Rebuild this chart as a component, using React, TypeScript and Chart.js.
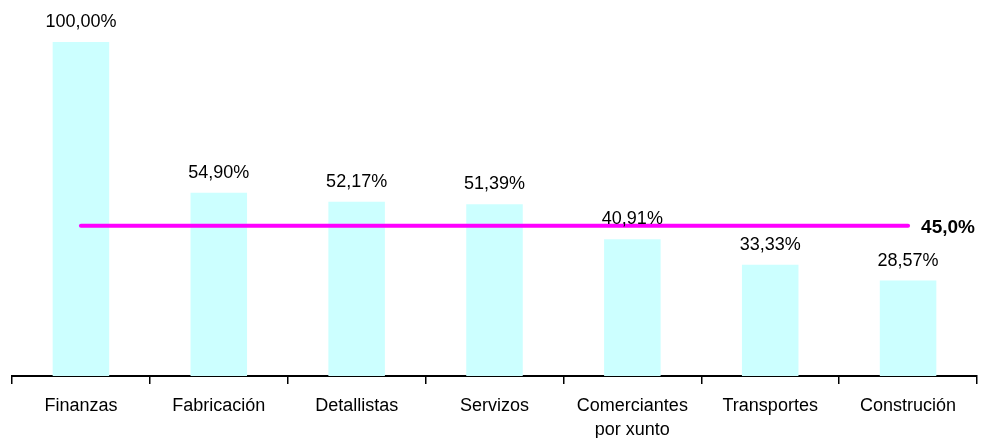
import React, { useEffect, useRef } from "react";
import { Chart, registerables } from "chart.js";

Chart.register(...registerables);

const categories: (string | string[])[] = [
  "Finanzas",
  "Fabricación",
  "Detallistas",
  "Servizos",
  ["Comerciantes", "por xunto"],
  "Transportes",
  "Construción",
];
const values: number[] = [100.0, 54.9, 52.17, 51.39, 40.91, 33.33, 28.57];
const averageValue = 45.0;
const averageLine: number[] = categories.map(() => averageValue);

const FONT = "'Liberation Sans', Arial, sans-serif";

const fmt = (v: number, d: number) => v.toFixed(d).replace(".", ",") + "%";

const labelsPlugin = {
  id: "valueLabels",
  afterDatasetsDraw(chart: any) {
    const ctx = chart.ctx;
    const meta = chart.getDatasetMeta(0);
    ctx.save();
    ctx.font = `18px ${FONT}`;
    ctx.fillStyle = "#000";
    ctx.textAlign = "center";
    ctx.textBaseline = "middle";
    meta.data.forEach((bar: any, i: number) => {
      ctx.fillText(fmt(values[i], 2), bar.x, bar.y - 20);
    });
    const lineMeta = chart.getDatasetMeta(1);
    const last = lineMeta.data[lineMeta.data.length - 1];
    ctx.font = `bold 19px ${FONT}`;
    ctx.textAlign = "left";
    ctx.textBaseline = "middle";
    ctx.fillText(fmt(averageValue, 1), last.x + 13, last.y + 2);
    ctx.restore();
  },
};

export default function App() {
  const ref = useRef<HTMLCanvasElement>(null);
  useEffect(() => {
    document.body.style.margin = "0";
    const chart = new Chart(ref.current!, {
      type: "bar",
      data: {
        labels: categories,
        datasets: [
          {
            type: "bar",
            data: values,
            backgroundColor: "#CCFFFF",
            categoryPercentage: 1,
            barPercentage: 0.41,
            order: 2,
          },
          {
            type: "line",
            data: averageLine,
            borderColor: "#FF00FF",
            borderWidth: 4,
            borderCapStyle: "round",
            pointRadius: 0,
            fill: false,
            order: 1,
          } as any,
        ],
      },
      options: {
        animation: false,
        responsive: false,
        maintainAspectRatio: false,
        layout: { padding: { top: 42, left: 12, right: 6, bottom: 0 } },
        plugins: {
          legend: { display: false },
          tooltip: { enabled: false },
        },
        scales: {
          x: {
            grid: {
              offset: true,
              drawOnChartArea: false,
              drawTicks: true,
              tickLength: 8,
              color: "#000",
              lineWidth: 1.5,
            },
            border: { color: "#000", width: 2 },
            ticks: {
              color: "#000",
              font: { family: FONT, size: 18, lineHeight: 1.28 },
              padding: 11,
              maxRotation: 0,
              autoSkip: false,
            },
            afterFit: (scale: any) => {
              scale.height = 62;
            },
          },
          y: {
            display: false,
            min: 0,
            max: 100,
          },
        },
      },
      plugins: [labelsPlugin],
    });
    return () => chart.destroy();
  }, []);
  return <canvas ref={ref} width={983} height={438} style={{ display: "block" }} />;
}
